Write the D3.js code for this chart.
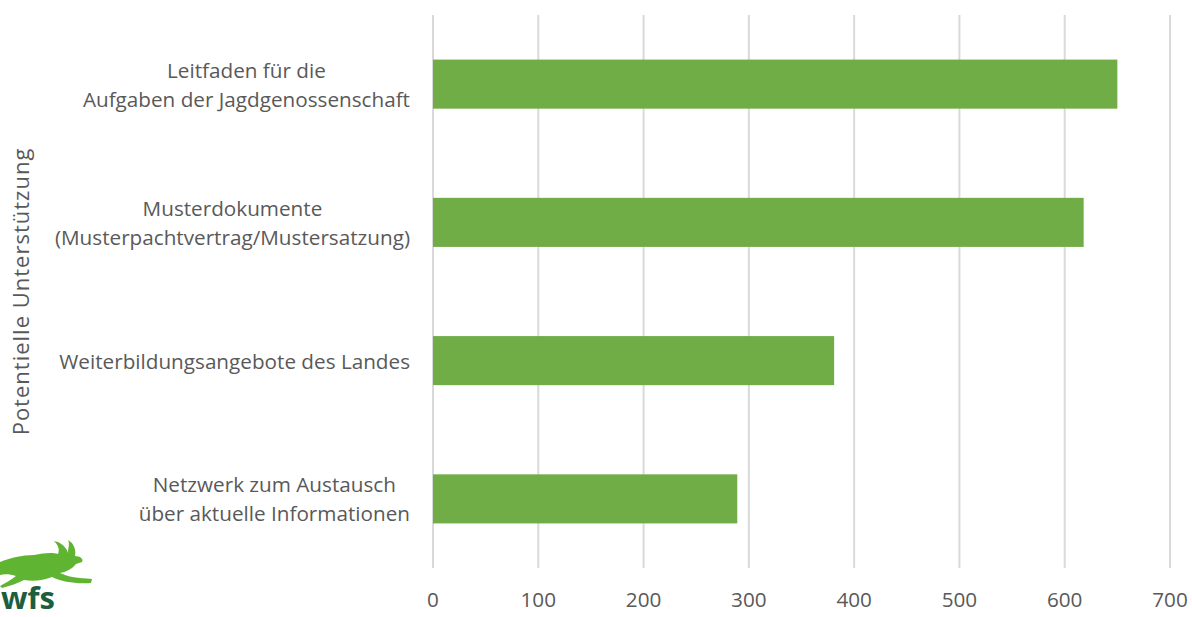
<!DOCTYPE html>
<html>
<head>
<meta charset="utf-8">
<script src="https://cdn.jsdelivr.net/npm/d3@7"></script>
<style>
  html, body { margin: 0; padding: 0; background: #ffffff; }
  svg { display: block; }
  text { font-family: "Open Sans", "Noto Sans", sans-serif; fill: #595959; }
</style>
</head>
<body>
<svg id="chart" width="1192" height="617"></svg>
<script>
const categories = [
  ["Leitfaden für die", "Aufgaben der Jagdgenossenschaft"],
  ["Musterdokumente", "(Musterpachtvertrag/Mustersatzung)"],
  ["Weiterbildungsangebote des Landes"],
  ["Netzwerk zum Austausch", "über aktuelle Informationen"]
];
const values = [650, 618, 381, 289];
const xTicks = [0, 100, 200, 300, 400, 500, 600, 700];
const yTitle = "Potentielle Unterstützung";

const svg = d3.select("#chart");
const plot = { left: 433, right: 1170, top: 15, bottom: 568 };
const fontSize = 20.7;
const lineGap = 29;

const x = d3.scaleLinear().domain([0, 700]).range([plot.left, plot.right]);
const y = d3.scaleBand().domain(d3.range(categories.length)).range([plot.top, plot.bottom]).paddingInner(0.645).paddingOuter(0.3225);

// gridlines
svg.append("g").selectAll("line").data(xTicks).join("line")
  .attr("x1", d => x(d)).attr("x2", d => x(d))
  .attr("y1", plot.top).attr("y2", plot.bottom)
  .attr("stroke", "#d9d9d9").attr("stroke-width", 2);

// bars
svg.append("g").selectAll("rect").data(values).join("rect")
  .attr("x", x(0)).attr("y", (d, i) => y(i))
  .attr("width", d => x(d) - x(0)).attr("height", y.bandwidth())
  .attr("fill", "#70ad47");

// x tick labels
svg.append("g").selectAll("text").data(xTicks).join("text")
  .attr("x", d => x(d)).attr("y", 607)
  .attr("text-anchor", "middle").attr("font-size", fontSize)
  .text(d => d);

// category labels
const labelRight = 410;
const cg = svg.append("g");
categories.forEach((lines, i) => {
  const g = cg.append("g");
  const cy = y(i) + y.bandwidth() / 2;
  const n = lines.length;
  const ts = lines.map((t, k) => g.append("text")
    .attr("font-size", fontSize)
    .attr("text-anchor", "middle")
    .attr("dominant-baseline", "central")
    .attr("y", cy + (k - (n - 1) / 2) * lineGap)
    .text(t));
  const maxW = d3.max(ts, t => t.node().getComputedTextLength());
  ts.forEach(t => t.attr("x", labelRight - maxW / 2));
});

// y axis title
svg.append("text")
  .attr("transform", `translate(29, ${(plot.top + plot.bottom) / 2}) rotate(-90)`)
  .attr("text-anchor", "middle").attr("font-size", 22)
  .attr("letter-spacing", 1)
  .text(yTitle);

// logo (decorative)
const logo = svg.append("g");
logo.append("path")
  .attr("d", "M0,562 C10,558 22,555 34,555 C44,553 52,552 58,554 C60,549 58,545 54,541 L58,542 C64,545 67,549 68,553 C68,548 70,544 68,540 L72,543 C75,547 76,552 75,556 C80,556 84,559 82,562 L76,564 C72,569 66,572 60,573 C68,577 78,578 92,579 L91,583 C76,584 62,582 52,577 C44,580 34,582 24,580 C18,583 10,586 2,588 L0,586 C6,583 12,579 16,576 C10,574 4,574 0,575 Z")
  .attr("fill", "#5fb532");
logo.append("text")
  .attr("x", 1).attr("y", 609)
  .attr("font-family", "'Liberation Sans Narrow', 'DejaVu Sans Condensed', sans-serif")
  .attr("font-weight", "bold").attr("font-size", 31)
  .style("fill", "#1d5e3f")
  .text("wfs");
</script>
</body>
</html>
